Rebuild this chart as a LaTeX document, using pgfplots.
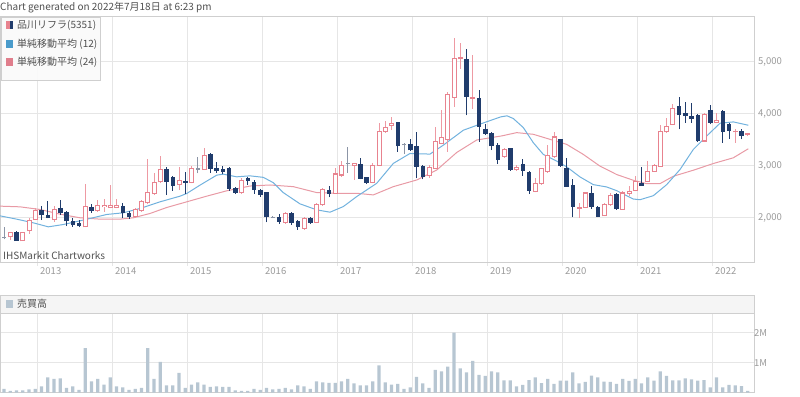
\documentclass[border=0pt]{standalone}
\usepackage{fontspec}
\setmainfont{Noto Sans CJK JP}
\usepackage{pgfplots}
\pgfplotsset{compat=1.18}
\usepackage{pgfplotstable}

\definecolor{navy}{HTML}{203C6C}
\definecolor{cpink}{HTML}{E8838F}
\definecolor{wpink}{HTML}{EE9AA3}
\definecolor{dojig}{HTML}{8C95A6}
\definecolor{smablue}{HTML}{72B2DE}
\definecolor{smapink}{HTML}{E89AA5}
\definecolor{volc}{HTML}{B7C6D2}
\definecolor{gridc}{HTML}{E6E6E6}
\definecolor{axc}{HTML}{CFCFCF}
\definecolor{tickc}{HTML}{9A9A9A}
\definecolor{txtc}{HTML}{505050}
\definecolor{legblue}{HTML}{4A9BCB}
\definecolor{legpink}{HTML}{E07E8C}

% monthly candles: m = months since Jan 2013
\pgfplotstableread{
m o h l c
-4 1628 1724 1564 1705
-2 1551 1724 1551 1712
-1 1744 1981 1692 1949
0 1962 2173 1949 2128
3 1968 2218 1917 2154
8 1820 2635 1808 2205
10 2141 2333 2109 2237
11 2205 2352 2109 2231
12 2192 2622 2173 2237
13 2192 2365 2173 2237
16 2026 2192 1994 2154
17 2141 2333 2109 2301
18 2282 3122 2256 2474
19 2461 2846 2429 2667
20 2686 3186 2654 2923
23 2641 2962 2525 2705
25 2673 2987 2654 2942
27 2923 3327 2910 3199
33 2474 2769 2449 2718
40 1904 2096 1879 2070
43 1796 2006 1764 1987
45 1904 2274 1891 2242
46 2242 2561 2223 2530
48 2466 2944 2453 2836
49 2817 3091 2785 3008
51 3008 3040 2721 3040
54 2676 3040 2657 3008
55 3008 3818 2989 3659
56 3659 3857 3627 3729
57 3774 3933 3678 3806
63 2804 3008 2766 2963
64 2944 3742 2925 3467
65 3423 4074 3410 3538
66 3499 4412 3263 4361
67 4316 5452 4125 5050
68 5050 5350 4858 5069
70 4291 5133 4093 4303
75 3180 3342 3148 3309
77 2922 3019 2890 2968
80 2503 2761 2484 2651
81 2651 2955 2632 2935
82 2890 3387 2858 3200
83 3167 3645 3148 3548
87 2181 2277 1987 2194
88 2200 2484 2181 2471
91 2032 2277 2019 2245
92 2245 2471 2226 2419
94 2161 2503 2148 2471
95 2458 2613 2419 2503
96 2522 2806 2503 2697
98 2697 3084 2677 2890
99 2890 3032 2871 3000
100 2987 3774 2974 3645
101 3645 3922 3632 3748
102 3793 4180 3774 4096
107 3471 4019 3451 3987
109 3825 4019 3812 3858
112 3645 3709 3438 3658
114 3593 3632 3567 3606
}\upT

\pgfplotstableread{
m o h l c
-3 1724 1744 1551 1551
1 2141 2218 1949 2045
2 2045 2320 1981 1994
4 2173 2333 2045 2096
5 2109 2120 1833 1929
6 1929 1981 1820 1853
7 1897 1949 1808 1833
9 2205 2256 2090 2128
14 2224 2269 1981 2090
15 2090 2128 1968 2013
21 2929 2974 2429 2686
22 2782 2795 2513 2609
24 2705 2878 2461 2673
28 3212 3231 2859 2942
29 2955 3071 2859 2891
30 2923 2987 2827 2878
31 2942 2974 2513 2558
32 2558 2590 2449 2474
34 2750 2782 2622 2705
35 2670 2721 2453 2530
36 2530 2542 2402 2434
37 2485 2498 1904 2006
39 2006 2064 1879 1923
41 2083 2096 1860 1891
42 1936 1955 1764 1815
44 1987 2006 1879 1904
47 2530 2606 2389 2453
52 3027 3136 2734 2753
53 2766 2785 2644 2670
58 3825 3837 3263 3372
60 3410 3518 3282 3295
61 3372 3646 2753 2976
62 2976 3008 2734 2785
69 5037 5241 3965 4329
71 4297 4456 3455 3742
72 3697 3806 3582 3614
73 3614 3646 3295 3372
74 3391 3423 3027 3117
76 3322 3342 2903 2922
78 3032 3116 2806 2903
79 2871 2890 2458 2516
84 3503 3516 2974 3000
85 2955 3148 2587 2600
86 2613 2742 2000 2213
89 2458 2613 2161 2200
90 2200 2213 2006 2019
93 2452 2471 2148 2161
97 2651 2968 2613 2619
103 4148 4309 3696 3967
104 4006 4212 3825 3954
105 3954 4200 3825 3903
106 3967 3987 3451 3471
108 4071 4161 3793 3825
110 4051 4071 3438 3645
111 3793 3825 3516 3664
113 3664 3709 3503 3580
}\downT

\pgfplotstableread{
m o h l c
-5 1615 1808 1577 1615
26 2942 3167 2846 2930
38 2000 2030 1990 2006
50 3040 3359 2861 3040
59 3404 3423 3219 3398
}\dojiT

\pgfplotstableread{
m v
-5 0.13
-4 0.06
-3 0.08
-2 0.08
-1 0.11
0 0.13
1 0.21
2 0.51
3 0.46
4 0.48
5 0.16
6 0.21
7 0.09
8 1.49
9 0.38
10 0.46
11 0.27
12 0.51
13 0.21
14 0.18
15 0.09
16 0.13
17 0.16
18 1.49
19 0.46
20 1.03
21 0.24
22 0.24
23 0.66
24 0.16
25 0.27
26 0.34
27 0.27
28 0.19
29 0.21
30 0.19
31 0.19
32 0.08
33 0.06
34 0.06
35 0.13
36 0.09
37 0.16
38 0.11
39 0.13
40 0.16
41 0.11
42 0.24
43 0.21
44 0.13
45 0.38
46 0.34
47 0.33
48 0.33
49 0.38
50 0.46
51 0.31
52 0.24
53 0.24
54 0.38
55 0.91
56 0.34
57 0.27
58 0.29
59 0.13
60 0.18
61 0.53
62 0.31
63 0.16
64 0.76
65 0.71
66 0.87
67 2.00
68 0.81
69 0.68
70 1.06
71 0.59
72 0.56
73 0.71
74 0.68
75 0.41
76 0.41
77 0.21
78 0.26
79 0.42
80 0.51
81 0.32
82 0.46
83 0.29
84 0.40
85 0.40
86 0.68
87 0.31
88 0.36
89 0.57
90 0.51
91 0.37
92 0.36
93 0.29
94 0.46
95 0.39
96 0.46
97 0.31
98 0.51
99 0.40
100 0.71
101 0.56
102 0.41
103 0.41
104 0.48
105 0.44
106 0.40
107 0.42
108 0.18
109 0.51
110 0.18
111 0.26
112 0.24
113 0.22
114 0.06
}\volT

\begin{document}
\begin{tikzpicture}[x=1pt,y=1pt]
\path[use as bounding box] (0,0) rectangle (800,396);

\node[anchor=west, inner sep=0pt, text=txtc, font=\fontsize{10}{12}\selectfont] at (0,388) {Chart generated on 2022年7月18日 at 6:23 pm};

% ---------- price panel ----------
\begin{axis}[
  name=price,
  at={(0pt,380pt)}, anchor=north west,
  width=754pt, height=246pt, scale only axis,
  xmin=-5.92, xmax=114.72, ymin=1144, ymax=5875,
  xtick={0,12,...,108},
  xticklabels={2013,2014,2015,2016,2017,2018,2019,2020,2021,2022},
  ytick={2000,3000,4000,5000},
  yticklabel pos=right,
  grid=major,
  major grid style={color=gridc, line width=0.8pt},
  axis line style={color=axc, line width=0.8pt},
  x tick style={color=gridc, line width=0.8pt}, tick align=outside, major tick length=4pt,
  y tick style={draw=none},
  xtick pos=bottom,
  /pgf/number format/assume math mode=true,
  /pgf/number format/1000 sep={,},
  ticklabel style={text=tickc, font=\fontsize{9.5}{11}\selectfont},
  xticklabel style={anchor=north west, inner sep=0pt, xshift=3pt, yshift=-1pt},
  yticklabel style={anchor=west, inner sep=0pt},
]
% SMA 24
\addplot[smapink, line width=1pt, forget plot] coordinates {
(-5.92,2218) (-2.72,2205) (0.48,2154) (3.68,2064) (6.88,1994) (10.08,1968) (13.28,1968) (15.41,1994) (18.08,2077) (20.75,2192) (23.95,2301) (27.15,2410) (30.35,2513) (34.08,2605) (37.28,2625) (41.01,2593) (44.75,2479) (47.95,2466) (51.15,2466) (53.81,2434) (57.01,2593) (60.75,2721) (63.95,2912) (67.15,3250) (70.35,3490) (74.4,3570) (76.75,3632) (79.41,3600) (82.08,3503) (84.75,3406) (87.41,3213) (90.08,2987) (92.75,2826) (95.41,2716) (97.55,2651) (99.68,2651) (101.81,2793) (105.01,2909) (108.21,3038) (111.41,3148) (113.81,3322)
};
% SMA 12
\addplot[smablue, line width=1pt, forget plot] coordinates {
(-5.92,2032) (-3.25,1968) (-0.59,1897) (1.81,1820) (4.21,1865) (6.88,1936) (8.48,1981) (11.15,2058) (13.81,2090) (16.48,2173) (19.68,2301) (22.88,2410) (23.95,2461) (26.08,2622) (28.75,2814) (29.81,2833) (31.95,2782) (34.08,2801) (36.21,2772) (37.8,2670) (39.41,2478) (42.08,2262) (44.75,2147) (46.88,2102) (49.01,2210) (51.15,2402) (54.35,2657) (57.01,3040) (59.68,3231) (62.88,3219) (65.01,3391) (68.21,3678) (71.41,3818) (74.2,3935) (75.2,3955) (76.21,3903) (77.81,3729) (79.41,3438) (81.01,3213) (83.15,3084) (84.75,2974) (86.88,2780) (89.01,2632) (91.15,2587) (92.75,2516) (95.41,2355) (96.48,2342) (98.61,2419) (100.75,2632) (102.88,2922) (105.01,3309) (107.15,3567) (109.28,3812) (111.41,3838) (113.81,3774)
};
% wicks (low to high)
\addplot[forget plot, wpink, line width=1pt, quiver={u=0, v=\thisrow{h}-\thisrow{l}}]
  table[x expr=\thisrow{m}-0.28, y=l] {\upT};
\addplot[forget plot, navy, line width=1pt, quiver={u=0, v=\thisrow{h}-\thisrow{l}}]
  table[x expr=\thisrow{m}-0.28, y=l] {\downT};
\addplot[forget plot, dojig, line width=1pt, quiver={u=0, v=\thisrow{h}-\thisrow{l}}]
  table[x expr=\thisrow{m}-0.28, y=l] {\dojiT};
% bodies
\addplot[forget plot, cpink, line width=5pt, quiver={u=0, v=\thisrow{c}-\thisrow{o}+20}]
  table[x expr=\thisrow{m}-0.28, y expr=\thisrow{o}-10] {\upT};
\addplot[forget plot, white, line width=3pt, quiver={u=0, v={max(\thisrow{c}-\thisrow{o}-20,0)}}]
  table[x expr=\thisrow{m}-0.28, y expr=\thisrow{o}+10] {\upT};
\addplot[forget plot, navy, line width=4.5pt, quiver={u=0, v=\thisrow{o}-\thisrow{c}+10}]
  table[x expr=\thisrow{m}-0.28, y expr=\thisrow{c}-5] {\downT};
\addplot[forget plot, dojig, line width=4.5pt, quiver={u=0, v={abs(\thisrow{c}-\thisrow{o})+20}}]
  table[x expr=\thisrow{m}-0.28, y expr={min(\thisrow{o},\thisrow{c})-10}] {\dojiT};
\end{axis}

% legend box
\fill[white!98!black, opacity=0.92] (1,316) rectangle (100,379);
\draw[color=axc, line width=0.6pt] (1,316) rectangle (100,379);
\fill[cpink] (6,367) rectangle (9.5,375);
\fill[navy] (9.5,367) rectangle (13,375);
\fill[legblue] (6,348) rectangle (13,356);
\fill[legpink] (6,330) rectangle (13,338);
\begin{scope}[every node/.style={anchor=west, inner sep=0pt, text=txtc, font=\fontsize{10}{12}\selectfont}]
\node at (17,371) {品川リフラ(5351)};
\node at (17,352) {単純移動平均 (12)};
\node at (17,334) {単純移動平均 (24)};
\node at (3,140) {IHSMarkit Chartworks};
\end{scope}

% ---------- volume panel ----------
\fill[color=white!96!black] (0,83) rectangle (754,101);
\draw[color=axc, line width=0.8pt] (0,83) rectangle (754,101);
\fill[volc] (6,88) rectangle (13,96);
\node[anchor=west, inner sep=0pt, text=txtc, font=\fontsize{10}{12}\selectfont] at (17,92) {売買高};

\begin{axis}[
  at={(0pt,83pt)}, anchor=north west,
  width=754pt, height=79.7pt, scale only axis,
  xmin=-5.92, xmax=114.72, ymin=0, ymax=2.657,
  xtick={0,12,...,108}, xticklabels={},
  ytick={1,2}, yticklabels={1M,2M},
  yticklabel pos=right,
  grid=major,
  major grid style={color=gridc, line width=0.8pt},
  axis line style={color=axc, line width=0.8pt},
  tick style={draw=none},
  /pgf/number format/assume math mode=true,
  ticklabel style={text=tickc, font=\fontsize{9.5}{11}\selectfont},
  yticklabel style={anchor=west, inner sep=0pt},
]
\addplot[ybar, bar width=3.2pt, fill=volc, draw=none] table[x expr=\thisrow{m}-0.28, y=v] {\volT};
\end{axis}
\end{tikzpicture}
\end{document}
